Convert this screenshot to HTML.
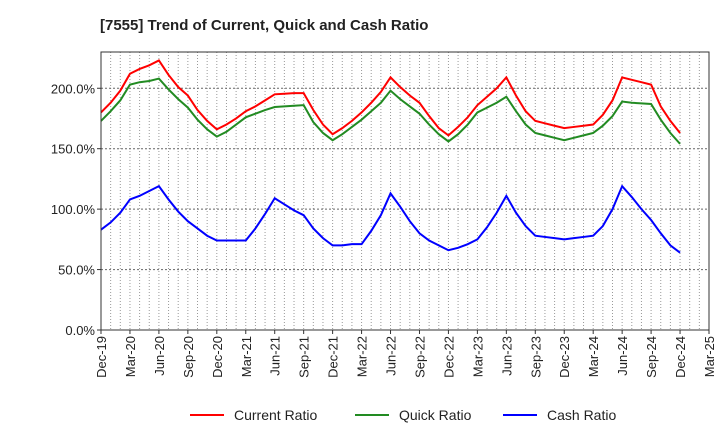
<!DOCTYPE html>
<html><head><meta charset="utf-8"><style>
body{margin:0;background:#fff;font-family:"Liberation Sans",sans-serif}
</style></head><body>
<svg width="720" height="440" id="chart" xmlns="http://www.w3.org/2000/svg" font-family="Liberation Sans, sans-serif">
<text x="100" y="30" font-size="15" font-weight="bold" fill="#222">[7555]  Trend of Current, Quick and Cash Ratio</text>
<g id="grid"></g><g id="series"></g><g id="axes"></g>
<g font-size="14" fill="#222">
<line x1="190" y1="415" x2="224" y2="415" stroke="#f00" stroke-width="2"/><text x="234" y="420">Current Ratio</text>
<line x1="355" y1="415" x2="389" y2="415" stroke="#228b22" stroke-width="2"/><text x="399" y="420">Quick Ratio</text>
<line x1="503" y1="415" x2="537" y2="415" stroke="#00f" stroke-width="2"/><text x="547" y="420">Cash Ratio</text>
</g>
</svg>
<script>
const xLabels=["Dec-19","Mar-20","Jun-20","Sep-20","Dec-20","Mar-21","Jun-21","Sep-21","Dec-21","Mar-22","Jun-22","Sep-22","Dec-22","Mar-23","Jun-23","Sep-23","Dec-23","Mar-24","Jun-24","Sep-24","Dec-24","Mar-25"];
const yTicks=[0,50,100,150,200];
const currentRatio=[180,188,198,212,216,219,223,211,201,194,182,173,166,170,175,181,185,190,195,195.5,196,196,182,170,162,167,173,180,188,197,209,201,194,188,177,167,161,168,176,186,193,200,209,194,181,173,171,169,167,168,169,170,178,190,209,207,205,203,185,173,163];
const quickRatio=[173,181,190,203,205,206,208,199,191,184,174,166,160,164,170,176,179,182,184.5,185,185.5,186,172,163,157,162,168,174,181,188,198,191,185,179,170,162,156,162,170,180,184,188,193,181,170,163,161,159,157,159,161,163,169,177,189,188,187.5,187,174,163,154];
const cashRatio=[83,89,97,108,111,115,119,108,98,90,84,78,74,74,74,74,84,96,109,104,99,95,84,76,70,70,71,71,82,95,113,102,90,80,74,70,66,68,71,75,85,97,111,97,86,78,77,76,75,76,77,78,86,100,119,110,100,91,80,70,64];
const L=101,R=709,T=52,B=330,yMax=230;
const X=i=>L+(R-L)*i/63;
const Y=v=>B-(B-T)*v/yMax;
const ns="http://www.w3.org/2000/svg";
function mk(tag,attrs,parent){const e=document.createElementNS(ns,tag);for(const k in attrs)e.setAttribute(k,attrs[k]);parent.appendChild(e);return e;}
const grid=document.getElementById('grid'),axes=document.getElementById('axes'),ser=document.getElementById('series');
for(let m=1;m<63;m++){const g=mk('line',{x1:X(m),x2:X(m),y1:T,y2:B,stroke:'#999','stroke-width':1,'stroke-dasharray':'1,2'},grid);

}
yTicks.forEach(v=>{if(v>0){const g=mk('line',{x1:L,x2:R,y1:Y(v),y2:Y(v),stroke:'#666','stroke-width':1,'stroke-dasharray':'2,2'},grid);

}
const t=mk('text',{x:L-6,y:Y(v)+5,'text-anchor':'end','font-size':13,fill:'#222'},axes);t.textContent=v.toFixed(1)+'%';


mk('line',{x1:L-4,x2:L,y1:Y(v),y2:Y(v),stroke:'#333'},axes);});
const fr=mk('rect',{x:L,y:T,width:R-L,height:B-T,fill:'none',stroke:'#333','stroke-width':1},axes);


xLabels.forEach((s,i)=>{const x=X(i*3);mk('line',{x1:x,x2:x,y1:B,y2:B+4,stroke:'#333'},axes);
const t=mk('text',{transform:`translate(${x+5},${B+6}) rotate(-90)`,'text-anchor':'end','font-size':13,fill:'#222'},axes);t.textContent=s;

});
[[currentRatio,'#f00','current-ratio-line'],[quickRatio,'#228b22','quick-ratio-line'],[cashRatio,'#00f','cash-ratio-line']].forEach(([d,c,n])=>{
const p=mk('polyline',{points:d.map((v,i)=>X(i)+','+Y(v)).join(' '),fill:'none',stroke:c,'stroke-width':2},ser);

});
</script>
</body></html>
